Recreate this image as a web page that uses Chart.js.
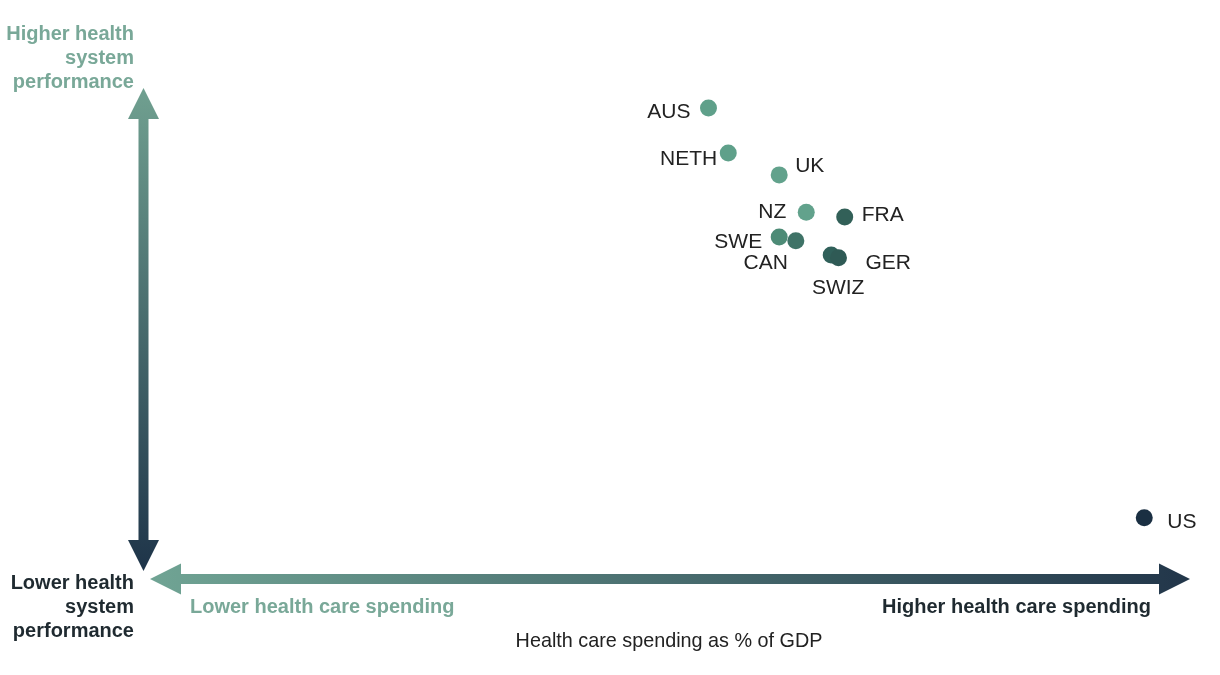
<!doctype html>
<html>
<head>
<meta charset="utf-8" />
<title>Health care spending vs health system performance</title>
<script src="https://cdn.jsdelivr.net/npm/chart.js@4"></script>
<style>
  html, body { margin:0; padding:0; background:#fff; }
  body { width:1220px; height:675px; position:relative; overflow:hidden; font-family:"Liberation Sans", Arial, sans-serif; }
  #wrap { position:absolute; left:0; top:0; width:1220px; height:675px; }
  .lbl { position:absolute; font-weight:bold; font-size:20px; line-height:24px; white-space:nowrap; }
  .teal { color:#79a898; }
  .dark { color:#1f2a30; }
  .right { text-align:right; }
</style>
</head>
<body>
<div id="wrap"><canvas id="c" width="1220" height="675"></canvas></div>

<div class="lbl teal right" style="right:1086px; top:21px;">Higher health<br>system<br>performance</div>
<div class="lbl dark right" style="right:1086px; top:570px;">Lower health<br>system<br>performance</div>
<div class="lbl teal" style="left:190px; top:594px;">Lower health care spending</div>
<div class="lbl dark" style="right:69px; top:594px;">Higher health care spending</div>
<div class="lbl" style="left:0; width:1338px; text-align:center; top:628px; font-weight:normal; font-size:19.8px; color:#222;">Health care spending as % of GDP</div>

<script>
// Länder und Werte (Indexskala 0–100)
const countries = ["AUS", "NETH", "UK", "NZ", "FRA", "SWE", "CAN", "SWIZ", "GER", "US"];
const spending = [53.7, 55.6, 60.5, 63.1, 66.8, 60.5, 62.1, 65.5, 66.2, 95.6];
const performance = [96.3, 87.0, 82.5, 74.8, 73.8, 69.7, 68.9, 66.0, 65.4, 11.8];
const dotColors = ["#5fa08a", "#5fa08a", "#62a28c", "#62a28c", "#326058", "#4d8b76", "#3f7367", "#30605a", "#2f5a55", "#1a2f42"];

// Beschriftungs-Offsets relativ zum Punkt
const labelPos = {
  AUS:  { dx: -18, dy: 4,  align: "right" },
  NETH: { dx: -11, dy: 6,  align: "right" },
  UK:   { dx: 16,  dy: -9, align: "left" },
  NZ:   { dx: -20, dy: 0,  align: "right" },
  FRA:  { dx: 17,  dy: -2, align: "left" },
  SWE:  { dx: -17, dy: 5,  align: "right" },
  CAN:  { dx: -8,  dy: 22, align: "right" },
  SWIZ: { dx: 7,   dy: 33, align: "center" },
  GER:  { dx: 27,  dy: 5,  align: "left" },
  US:   { dx: 23,  dy: 4,  align: "left" }
};

// Pfeile mit Farbverlauf
function arrow(ctx, x1, y1, x2, y2, c1, c2) {
  const shaft = 10, headW = 31, headL = 31;
  const ang = Math.atan2(y2 - y1, x2 - x1);
  const len = Math.hypot(x2 - x1, y2 - y1);
  const g = ctx.createLinearGradient(x1, y1, x2, y2);
  g.addColorStop(0, c1);
  g.addColorStop(1, c2);
  ctx.save();
  ctx.translate(x1, y1);
  ctx.rotate(ang);
  ctx.beginPath();
  ctx.moveTo(0, 0);
  ctx.lineTo(headL, -headW / 2);
  ctx.lineTo(headL, -shaft / 2);
  ctx.lineTo(len - headL, -shaft / 2);
  ctx.lineTo(len - headL, -headW / 2);
  ctx.lineTo(len, 0);
  ctx.lineTo(len - headL, headW / 2);
  ctx.lineTo(len - headL, shaft / 2);
  ctx.lineTo(headL, shaft / 2);
  ctx.lineTo(headL, headW / 2);
  ctx.closePath();
  ctx.restore();
  ctx.fillStyle = g;
  ctx.fill();
}

const axesArrows = {
  id: "axesArrows",
  beforeDatasetsDraw(chart) {
    const { ctx, chartArea: a } = chart;
    ctx.save();
    // vertikal: oben hell, unten dunkel
    arrow(ctx, 143.5, a.top - 2, 143.5, a.bottom - 4, "#70a090", "#1e3449");
    // horizontal: links hell, rechts dunkel
    arrow(ctx, a.left, 579, a.right, 579, "#70a494", "#22364a");
    ctx.restore();
  }
};

const pointLabels = {
  id: "pointLabels",
  afterDatasetsDraw(chart) {
    const { ctx } = chart;
    const meta = chart.getDatasetMeta(0);
    ctx.save();
    ctx.font = "21px 'Liberation Sans', Arial, sans-serif";
    ctx.fillStyle = "#222";
    ctx.textBaseline = "middle";
    meta.data.forEach((pt, i) => {
      const name = countries[i];
      const p = labelPos[name];
      ctx.textAlign = p.align;
      ctx.fillText(name, pt.x + p.dx, pt.y + p.dy);
    });
    ctx.restore();
  }
};

new Chart(document.getElementById("c").getContext("2d"), {
  type: "scatter",
  data: {
    datasets: [{
      data: spending.map((x, i) => ({ x, y: performance[i] })),
      backgroundColor: dotColors,
      borderWidth: 0,
      pointRadius: 8.5,
      pointHoverRadius: 8.5
    }]
  },
  options: {
    responsive: false,
    animation: false,
    layout: { padding: { left: 150, right: 30, top: 90, bottom: 100 } },
    plugins: { legend: { display: false }, tooltip: { enabled: false } },
    scales: {
      x: { type: "linear", min: 0, max: 100, display: false },
      y: { type: "linear", min: 0, max: 100, display: false }
    }
  },
  plugins: [axesArrows, pointLabels]
});
</script>
</body>
</html>
